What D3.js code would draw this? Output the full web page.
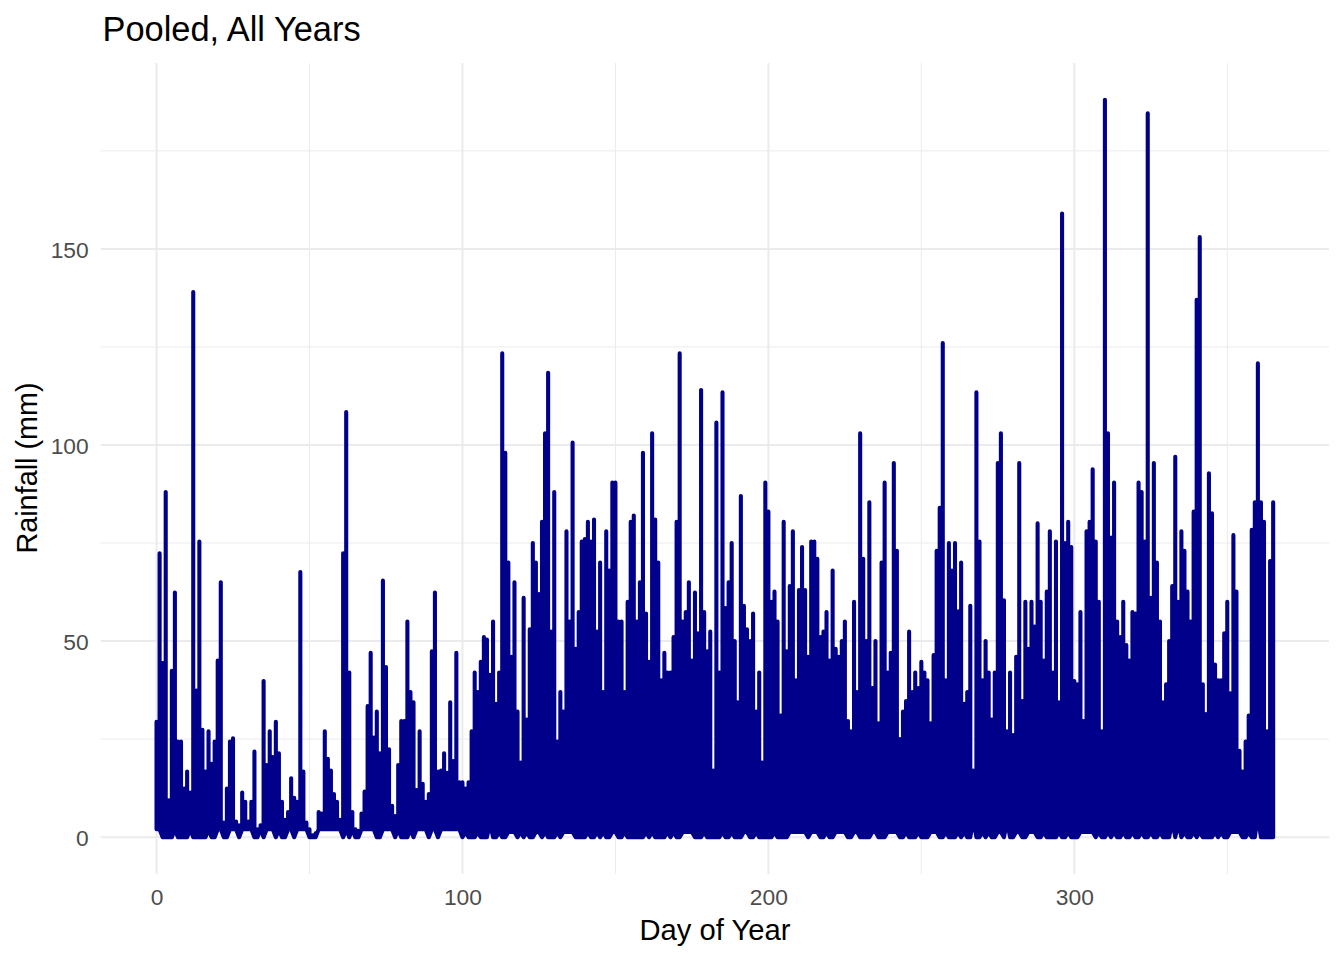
<!DOCTYPE html>
<html>
<head>
<meta charset="utf-8">
<script src="https://cdn.jsdelivr.net/npm/d3@7"></script>
<style>
html,body{margin:0;padding:0;background:#fff;}
svg{display:block;font-family:"Liberation Sans",Arial,sans-serif;}
</style>
</head>
<body>
<svg id="chart" width="1344" height="960"></svg>
<script>
const chartTitle = "Pooled, All Years";
const xTitle = "Day of Year";
const yTitle = "Rainfall (mm)";
const xMajorTicks = [0,100,200,300];
const xMinorTicks = [50,150,250,350];
const yMajorTicks = [0,50,100,150];
const yMinorTicks = [25,75,125,175];

// Highest rainfall for each day of year, day 0 first
const dayPeaks = [
29.4,72.4,44.4,88,9.4,42.4,62.4,24.4,24.4,12.4,
16.7,11.4,139,37.4,75.4,27.4,16.7,27,18.7,24.4,
45,65,3.7,12.4,24.4,25.2,4,3,11.4,9,
4,9,21.8,2,3,39.8,18.4,27,20.4,29.4,
21.4,9,4.4,6.4,15,10,9,67.6,16.7,3.7,
2,0.5,1,6.4,6,27,20,17,11,9,
4.4,72.4,108.4,42,6.4,2,1.6,6,11.6,33.4,
47,25.4,32,21.4,65.4,43.4,22.4,8,5.4,18.4,
29.6,29.6,55,37,34.4,12,27,13.6,9,11,
47.4,62.4,16.7,17,21.4,16.4,34.4,19.4,47,14,
14,12.4,14,27,42,37,44.7,51,50.4,41.4,
55,34,42,123.4,98,70,46,65,32,19,
61,30,53,75,70,62,80.4,103,118.4,52.4,
88,24.4,37,32,78,55,100.6,48,57.4,75.4,
76,80.4,75.4,81,52.4,70,37,78,68,90.4,
90.4,55,55,37,60,80.4,82,55,65,98,
57,44.7,103,81,70,40,47,42,42,51,
80.4,123.4,55,57.4,65,45,62.4,52,114,57.4,
47.4,52.4,17,105.7,42,113.4,58.4,65,75,50,
34.4,87,59,53,50,57,32,42,19,90.4,
83,60,62.6,55,31,80.4,47.4,64,78,40,
63,74,63,46,75.4,75.4,71,51,52.4,57.4,
45,68,48,46,50,55,29.6,27,60,37,
103,71,50,85.4,38,50,29,70,90.4,42,
47,95.4,73,25,32,34.7,52.4,37,42,38,
44.7,42,40,29,46.4,73,84,126,40,75,
68,75,57.6,70,34,37,59,17,113.4,75.4,
40,50,42,30,42,95.4,103,60.4,27,42,
26,46,95.4,34.7,60,48,60,53.7,80,60,
45,62.6,78,42,75.4,34.4,159,75,80.4,74,
39.8,39,57.4,29.6,78,80.4,93.8,75.4,60,27,
188,103,76.4,90.4,55,51,60,49,45,57.4,
57,90.4,88,75.4,184.6,61,95.4,70,55,34.4,
39,50,64,97,60,78,73,62.6,55,83,
137,153,39,31.4,92.8,82.6,44,40,40,52,
60,36.7,77,62.6,22,16.7,24.4,31,78.4,85.4,
120.8,85.4,80.4,27,70.4,85.4
];

// Early-year days whose lowest reading sits near 2 mm
const earlyRaisedLowDays = [
0,1,6,11,17,20,21,24,25,26,28,29,30,31,34,36,37,38,40,43,44,46,47,48,49,
53,54,55,56,57,58,59,60,62,64,67,68,69,70,71,74,75,76,77,79,83,85,86,87,88,
90,91,93,94,95,96,97,98,99
];
// Later days whose lowest reading sits just above zero
const laterRaisedLowDays = [
101,105,112,115,116,117,119,121,124,125,127,131,
133,134,135,136,141,144,146,149,150,153,160,162,167,169,172,173,174,175,179,185,
188,192,193,196,202,207,208,209,210,211,212,214,215,216,219,222,223,224,225,228,229,
234,235,239,240,241,242,245,249,253,254,255,258,262,264,270,272,275,276,281,
282,285,286,287,290,295,298,302,303,304,305,306,308,311,313,316,319,322,325,328,
336,339,341,346,348,351,352,353,354,357
];
// Days with an even higher lowest reading
const highLowDays = [109,267,278,332,334,360];
const highLowValues = [3.5,4.5,4,4,3.5,5.5];

const width = 1344, height = 960;
const panel = {left:100.7, right:1329, top:63, bottom:874};

const svg = d3.select("#chart");
const x = d3.scaleLinear().domain([-18.25,383.25]).range([panel.left,panel.right]);
const y = d3.scaleLinear().domain([-9.4,197.4]).range([panel.bottom,panel.top]);

const gridColor = "#ebebeb";
const grid = svg.append("g");
grid.selectAll("line.xminor").data(xMinorTicks).join("line").attr("class","xminor")
  .attr("x1",d=>x(d)).attr("x2",d=>x(d)).attr("y1",panel.top).attr("y2",panel.bottom)
  .attr("stroke",gridColor).attr("stroke-width",1);
grid.selectAll("line.yminor").data(yMinorTicks).join("line").attr("class","yminor")
  .attr("y1",d=>y(d)).attr("y2",d=>y(d)).attr("x1",panel.left).attr("x2",panel.right)
  .attr("stroke",gridColor).attr("stroke-width",1);
grid.selectAll("line.xmajor").data(xMajorTicks).join("line").attr("class","xmajor")
  .attr("x1",d=>x(d)).attr("x2",d=>x(d)).attr("y1",panel.top).attr("y2",panel.bottom)
  .attr("stroke",gridColor).attr("stroke-width",2);
grid.selectAll("line.ymajor").data(yMajorTicks).join("line").attr("class","ymajor")
  .attr("y1",d=>y(d)).attr("y2",d=>y(d)).attr("x1",panel.left).attr("x2",panel.right)
  .attr("stroke",gridColor).attr("stroke-width",2);

const lowOf = day => {
  const h = highLowDays.indexOf(day);
  if (h >= 0) return highLowValues[h];
  if (earlyRaisedLowDays.includes(day)) return 2;
  return laterRaisedLowDays.includes(day) ? 1.3 : 0;
};
const points = dayPeaks.flatMap((peak,day) => {
  const low = Math.min(lowOf(day), peak);
  return [[day,low],[day,peak],[day,low]];
});
const line = d3.line().x(d=>x(d[0])).y(d=>y(d[1]));
svg.append("path").datum(points).attr("d",line)
  .attr("fill","none").attr("stroke","#00008b").attr("stroke-width",4.1)
  .attr("stroke-linejoin","round").attr("stroke-linecap","butt");

const xAxis = svg.append("g").attr("transform",`translate(0,${panel.bottom})`)
  .call(d3.axisBottom(x).tickValues(xMajorTicks).tickFormat(d3.format("d")).tickSize(0).tickPadding(15));
const yAxis = svg.append("g").attr("transform",`translate(${panel.left},1)`)
  .call(d3.axisLeft(y).tickValues(yMajorTicks).tickFormat(d3.format("d")).tickSize(0).tickPadding(12));
[xAxis,yAxis].forEach(a=>{
  a.select(".domain").remove();
  a.selectAll("text").attr("fill","#4d4d4d").style("font-size","22.8px")
   .style("font-family",'"Liberation Sans",Arial,sans-serif');
});

svg.append("text").attr("x",102.5).attr("y",41).text(chartTitle)
  .attr("fill","#000").style("font-size","34.4px");
svg.append("text").attr("x",715).attr("y",940).attr("text-anchor","middle").text(xTitle)
  .attr("fill","#000").style("font-size","29.2px");
svg.append("text").attr("transform","translate(37,468) rotate(-90)").attr("text-anchor","middle").text(yTitle)
  .attr("fill","#000").style("font-size","28.8px");
</script>
</body>
</html>
